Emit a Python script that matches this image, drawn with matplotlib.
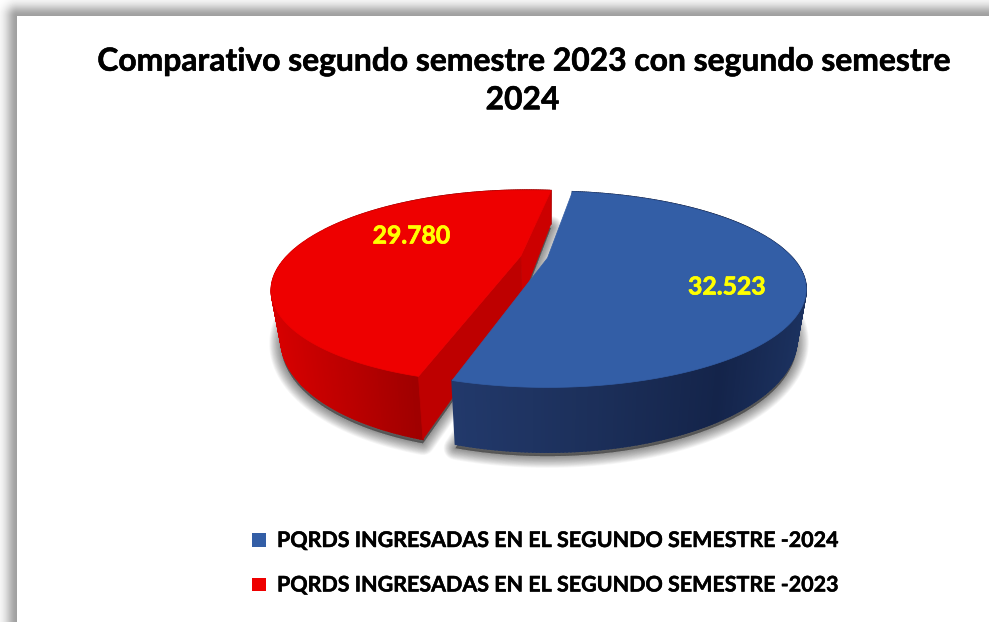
import numpy as np
import matplotlib
matplotlib.use("Agg")
import matplotlib.pyplot as plt
import matplotlib.patheffects as pe
from matplotlib.patches import Polygon, Rectangle
from matplotlib.colors import to_rgb

title = "Comparativo segundo semestre 2023 con segundo semestre\n2024"
categories = ["PQRDS INGRESADAS EN EL SEGUNDO SEMESTRE -2024",
              "PQRDS INGRESADAS EN EL SEGUNDO SEMESTRE -2023"]
values = [32523, 29780]
top_colors = ["#335EA6", "#EE0000"]

W, H = 989, 622
plt.rcParams['font.family'] = ['Lato', 'DejaVu Sans']
fig = plt.figure(figsize=(W / 100, H / 100), dpi=100)
ax = fig.add_axes([0, 0, 1, 1])
ax.set_xlim(0, W)
ax.set_ylim(H, 0)
ax.axis('off')

# frame shadow
xx, yy = np.meshgrid(np.arange(W) + .5, np.arange(H) + .5)
dx = np.clip(17 - xx, 0, None)
dy = np.clip(16 - yy, 0, None)
d = np.hypot(dx, dy)
frame = 1 - (95 / 255) * np.exp(-(d / 11) ** 2) * (d > 0)
ax.imshow(frame, cmap='gray', vmin=0, vmax=1, extent=(0, W, H, 0), aspect='auto', zorder=0,
          interpolation='bilinear')

# perspective pie
CX, CY, RX, RY, K, DEPTH, TAPER = 547.5, 258, 245, 88, .32, 44, .035
EXPLODE = .112
RED_U_SCALE = .96
START = 82.3


def project(u, v, z=0.0):
    u, v = np.asarray(u, float), np.asarray(v, float)
    den = 1 + K * v
    return np.column_stack([CX + RX * u / den * (1 - TAPER * z),
                            CY - RY * v / den + DEPTH * z / den])


sweeps = 360 * np.array(values) / sum(values)
t_blue = np.radians(np.linspace(START, START - sweeps[0], 300))
t_red = np.radians(np.linspace(START, START + sweeps[1], 300))
mid = np.radians(START + sweeps[1] / 2)
ox, oy = EXPLODE * np.cos(mid), EXPLODE * np.sin(mid)

blue_u, blue_v = np.cos(t_blue), np.sin(t_blue)
red_u, red_v = RED_U_SCALE * np.cos(t_red) + ox, np.sin(t_red) + oy


def outline(u, v, au, av, z=0.0):
    return np.vstack([project([au], [av], z), project(u, v, z)])


# soft shadow below both slices
for arr in (outline(blue_u, blue_v, 0, 0, 1), outline(red_u, red_v, ox, oy, 1)):
    arr = arr + [0, 4]
    for lw in np.linspace(17, 1, 16):
        ax.add_patch(Polygon(arr, closed=True, fc=(0, 0, 0, .03), ec=(0, 0, 0, .03),
                             lw=lw, joinstyle='round', zorder=1))


def strip(u, v, xp, cols, z):
    top, bot = project(u, v, 0), project(u, v, 1)
    rgb = np.array([to_rgb(c) for c in cols])
    for i in range(len(u) - 1):
        xm = (top[i, 0] + top[i + 1, 0]) / 2
        c = [np.interp(xm, xp, rgb[:, j]) for j in range(3)]
        ax.add_patch(Polygon([top[i], top[i + 1], bot[i + 1], bot[i]], closed=True,
                             fc=c, ec=c, lw=1.2, zorder=z))


# red slice
strip(red_u, red_v, [270, 340, 415], ["#D80000", "#BE0000", "#A00000"], 2)
A0, A1 = project([ox], [oy], 0)[0], project([ox], [oy], 1)[0]
B0, B1 = project(red_u[:1], red_v[:1], 0)[0], project(red_u[:1], red_v[:1], 1)[0]
F0, F1 = project(red_u[-1:], red_v[-1:], 0)[0], project(red_u[-1:], red_v[-1:], 1)[0]
ax.add_patch(Polygon([B0, A0, A1, B1], closed=True, fc="#CC0000", ec="#CC0000", lw=.5, zorder=3))
ax.add_patch(Polygon([A0, F0, F1, A1], closed=True, fc="#BE0000", ec="#BE0000", lw=.5, zorder=3))
ax.add_patch(Polygon(outline(red_u, red_v, ox, oy), closed=True, fc=top_colors[1],
                     ec=top_colors[1], lw=.5, zorder=4))

# blue slice
strip(blue_u, blue_v, [452, 610, 720, 807], ["#22396B", "#1B2E58", "#14244A", "#1C3260"], 5)
ax.add_patch(Polygon(outline(blue_u, blue_v, 0, 0), closed=True, fc=top_colors[0],
                     ec=top_colors[0], lw=.5, zorder=6))

# value labels
fmt = lambda v: f"{v:,}".replace(",", ".")
heavy = lambda col, w: [pe.withStroke(linewidth=w, foreground=col)]
ax.text(727, 287, fmt(values[0]), color="#FFFF00", fontsize=17.8, fontweight='bold',
        ha='center', va='center', zorder=7, path_effects=heavy("#FFFF00", .5))
ax.text(411.5, 236, fmt(values[1]), color="#FFFF00", fontsize=17.8, fontweight='bold',
        ha='center', va='center', zorder=7, path_effects=heavy("#FFFF00", .5))

# title
ax.text(522.5, 80.5, title, color="black", fontsize=22.9, fontweight='bold', ha='center',
        va='center', linespacing=1.4, zorder=7, path_effects=heavy("black", .4))

# legend
for y, label, col in zip([539.5, 584], categories, top_colors):
    ax.add_patch(Rectangle((252, y - 6.5), 14, 13.5, fc=col, ec='none', zorder=7))
    ax.text(277, y + 1.5, label, color="black", fontsize=15.45, fontweight='bold', ha='left',
            va='center', zorder=7, path_effects=heavy("black", .35))

fig.savefig("out.png", dpi=100)
